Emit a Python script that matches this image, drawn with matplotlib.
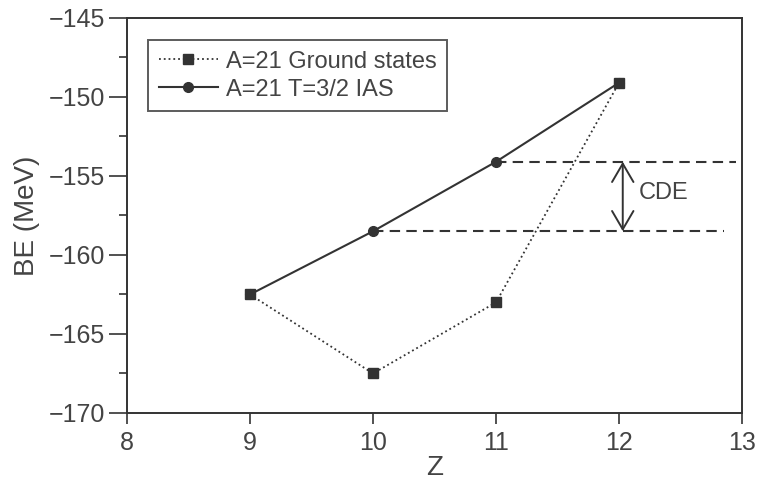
import numpy as np
import matplotlib.pyplot as plt
from matplotlib.ticker import MultipleLocator

plt.rcParams['font.family'] = ['Liberation Sans', 'DejaVu Sans']

Z = [9, 10, 11, 12]
be_ground = [-162.5, -167.5, -163.0, -149.1]
be_ias = [-162.5, -158.5, -154.1, -149.1]

ink = '#333333'
txt = '#444444'

fig = plt.figure(figsize=(7.58, 4.98), dpi=100)
ax = fig.add_axes([0.1675, 0.1707, 0.8115, 0.7933])

ax.plot(Z, be_ground, ls=':', lw=1.3, color=ink, marker='s', ms=7,
        label='A=21 Ground states')
ax.plot(Z, be_ias, ls='-', lw=1.5, color=ink, marker='o', ms=7,
        label='A=21 T=3/2 IAS')

# CDE reference levels and arrow
ax.hlines(be_ias[2], Z[2], 12.95, colors=ink, linestyles=(0, (5, 3)), lw=1.5)
ax.hlines(be_ias[1], Z[1], 12.85, colors=ink, linestyles=(0, (5, 3)), lw=1.5)
ax.annotate('', xy=(12.03, be_ias[2]), xytext=(12.03, be_ias[1]),
            arrowprops=dict(arrowstyle='<->, head_length=0.6, head_width=0.35',
                            color=ink, lw=1.4, mutation_scale=22,
                            shrinkA=0, shrinkB=0))
ax.text(12.16, (be_ias[1] + be_ias[2]) / 2 + 0.2, 'CDE', fontsize=17,
        color=txt, va='center', ha='left')

ax.set_xlim(8, 13)
ax.set_ylim(-170, -145)
ax.xaxis.set_major_locator(MultipleLocator(1))
ax.yaxis.set_major_locator(MultipleLocator(5))
ax.yaxis.set_minor_locator(MultipleLocator(2.5))
ax.tick_params(axis='x', direction='out', length=8, width=1.2,
               labelsize=18, colors=ink, labelcolor=txt, pad=5)
ax.tick_params(axis='y', which='major', direction='out', length=13,
               width=1.2, labelsize=18, colors=ink, labelcolor=txt, pad=3)
ax.tick_params(axis='y', which='minor', direction='out', length=6,
               width=1.2, colors=ink)
for s in ax.spines.values():
    s.set_color(ink)
    s.set_linewidth(1.4)

ax.set_xlabel('Z', fontsize=20, color=txt, labelpad=0)
ax.set_ylabel('BE (MeV)', fontsize=20, color=txt, labelpad=6)

leg = ax.legend(loc='upper left', bbox_to_anchor=(0.034, 0.944), fontsize=17,
                frameon=True, fancybox=False, handlelength=2.5,
                borderpad=0.45, labelspacing=0.25, handletextpad=0.35,
                borderaxespad=0)
leg.get_frame().set_edgecolor(ink)
leg.get_frame().set_linewidth(1.4)
for t in leg.get_texts():
    t.set_color(txt)

fig.savefig('out.png', dpi=100)
